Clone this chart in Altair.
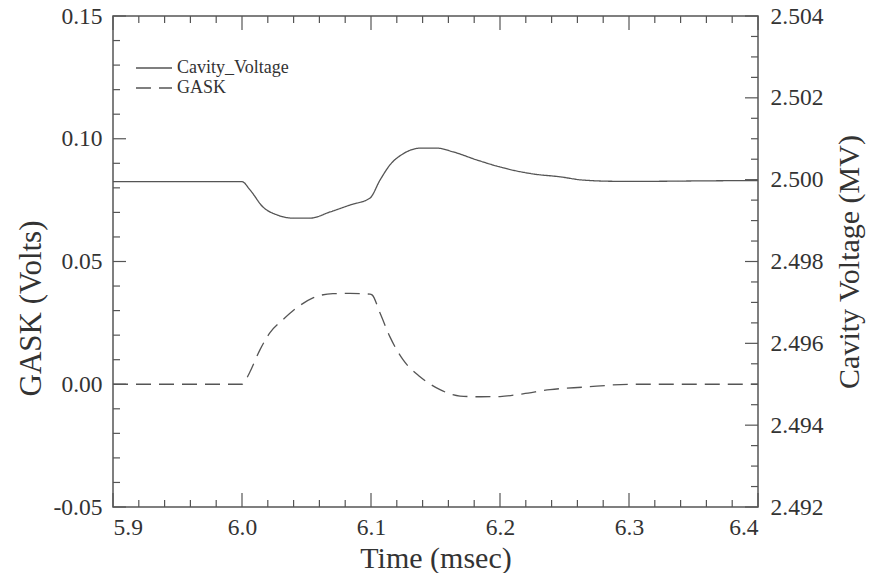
import altair as alt
import pandas as pd

# --- GASK signal (Volts) ---
gask_t = [5.90, 6.000, 6.0023, 6.0062, 6.0140, 6.0217, 6.0318, 6.0426, 6.0550,
          6.0705, 6.0837, 6.0992, 6.1008, 6.1070, 6.1147, 6.1248, 6.1380,
          6.1535, 6.1690, 6.1845, 6.2000, 6.2178, 6.2388, 6.2643, 6.3031,
          6.3419, 6.40]
gask_v = [0.0, 0.0, 0.0012, 0.0051, 0.0141, 0.0210, 0.0263, 0.0312, 0.0352,
          0.0369, 0.0370, 0.0367, 0.0364, 0.0290, 0.0193, 0.0100, 0.0031,
          -0.0022, -0.0048, -0.0051, -0.0050, -0.0039, -0.0022, -0.0012,
          0.0, 0.0, 0.0]

# --- Cavity voltage (MV) ---
cav_t = [5.90, 6.000, 6.0062, 6.0163, 6.0271, 6.0395, 6.0527, 6.0682,
         6.0837, 6.0992, 6.1070, 6.1147, 6.1248, 6.1380, 6.1512, 6.1636,
         6.1822, 6.2023, 6.2256, 6.2465, 6.2643, 6.2907, 6.3163, 6.3550, 6.40]
cav_v = [2.49995, 2.49995, 2.49975, 2.49933, 2.49914, 2.49906, 2.49906,
         2.49921, 2.49938, 2.49955, 2.49999, 2.50036, 2.50063, 2.50077,
         2.50077, 2.50068, 2.50048, 2.50029, 2.50014, 2.50007, 2.49999,
         2.49996, 2.49996, 2.49997, 2.49998]

series_names = ["Cavity_Voltage", "GASK"]

# axis tick values
x_major = [5.9, 6.0, 6.1, 6.2, 6.3, 6.4]
x_minor = [5.92, 5.94, 5.96, 5.98, 6.02, 6.04, 6.06, 6.08, 6.12, 6.14,
           6.16, 6.18, 6.22, 6.24, 6.26, 6.28, 6.32, 6.34, 6.36, 6.38]
left_major = [-0.05, 0.0, 0.05, 0.10, 0.15]
left_minor = [-0.04, -0.03, -0.02, -0.01, 0.01, 0.02, 0.03, 0.04, 0.06,
              0.07, 0.08, 0.09, 0.11, 0.12, 0.13, 0.14]
right_major = [2.492, 2.494, 2.496, 2.498, 2.500, 2.502, 2.504]
right_minor = [2.4925, 2.493, 2.4935, 2.4945, 2.495, 2.4955, 2.4965, 2.497,
               2.4975, 2.4985, 2.499, 2.4995, 2.5005, 2.501, 2.5015, 2.5025,
               2.503, 2.5035]

W, H = 645, 491
INK = "#555555"
TXT = "#333333"
FONT = "Liberation Serif"

gask_df = pd.DataFrame({"t": gask_t, "v": gask_v, "series": "GASK"})
cav_df = pd.DataFrame({"t": cav_t, "v": cav_v, "series": "Cavity_Voltage"})

x_scale = alt.Scale(domain=[5.9, 6.4], nice=False, zero=False)
yl_scale = alt.Scale(domain=[-0.05, 0.15], nice=False, zero=False)
yr_scale = alt.Scale(domain=[2.492, 2.504], nice=False, zero=False)

text_style = dict(labelFont=FONT, labelFontSize=23.5, labelColor=TXT,
                  titleFont=FONT, titleColor=TXT, titleFontWeight="normal")

# one axis definition per scale, shared by every layer that uses the scale
x_axis = alt.Axis(values=x_major, format=".1f", title="Time (msec)",
                  labelPadding=8, titlePadding=5, titleFontSize=30,
                  **text_style)
yl_axis = alt.Axis(values=left_major, title="GASK (Volts)",
                   labelExpr="(datum.value < 0 ? '-' : '') + format(abs(datum.value), '.2f')",
                   labelPadding=11, titlePadding=6, titleFontSize=31,
                   titleY=292, **text_style)
yr_axis = alt.Axis(values=right_major, format=".3f", orient="right",
                   title="Cavity Voltage (MV)", labelPadding=12,
                   titlePadding=12, titleAngle=270, titleBaseline="top",
                   titleFontSize=30, **text_style)

dash = alt.StrokeDash(
    "series:N",
    scale=alt.Scale(domain=series_names, range=[[1, 0], [15, 8]]),
    legend=alt.Legend(
        title=None, orient="none", legendX=22, legendY=42,
        symbolType="stroke", symbolSize=1300, symbolStrokeColor=INK,
        symbolStrokeWidth=1.3, labelFont=FONT, labelFontSize=18,
        labelColor=TXT, labelOffset=4, rowPadding=0, clipHeight=20,
    ),
)

gask_line = alt.Chart(gask_df).mark_line(
    color=INK, strokeWidth=1.3, interpolate="monotone"
).encode(
    x=alt.X("t:Q", scale=x_scale, axis=x_axis),
    y=alt.Y("v:Q", scale=yl_scale, axis=yl_axis),
    strokeDash=dash,
)

cav_line = alt.Chart(cav_df).mark_line(
    color=INK, strokeWidth=1.3, interpolate="monotone"
).encode(
    x=alt.X("t:Q", scale=x_scale, axis=x_axis),
    y=alt.Y("v:Q", scale=yr_scale, axis=yr_axis),
    strokeDash=dash,
)


def tick_rules(values, length, side):
    base = alt.Chart(pd.DataFrame({"t": values, "v": values})).mark_rule(
        color=INK, strokeWidth=1.2)
    if side == "bottom":
        return base.encode(x=alt.X("t:Q", scale=x_scale, axis=x_axis),
                           y=alt.value(H), y2=alt.value(H - length))
    if side == "top":
        return base.encode(x=alt.X("t:Q", scale=x_scale, axis=x_axis),
                           y=alt.value(0), y2=alt.value(length))
    if side == "left":
        return base.encode(y=alt.Y("v:Q", scale=yl_scale, axis=yl_axis),
                           x=alt.value(0), x2=alt.value(length))
    return base.encode(y=alt.Y("v:Q", scale=yr_scale, axis=yr_axis),
                       x=alt.value(W), x2=alt.value(W - length))


left_group = alt.layer(
    gask_line,
    tick_rules(left_major, 13, "left"),
    tick_rules(left_minor, 7, "left"),
    tick_rules(x_major, 14, "bottom"),
    tick_rules(x_minor, 7, "bottom"),
    tick_rules(x_major, 14, "top"),
    tick_rules(x_minor, 7, "top"),
)

right_group = alt.layer(
    cav_line,
    tick_rules(right_major, 13, "right"),
    tick_rules(right_minor, 7, "right"),
)

chart = alt.layer(left_group, right_group).resolve_scale(
    y="independent"
).properties(
    width=W, height=H,
    autosize=alt.AutoSizeParams(type="none"),
    padding={"left": 113, "top": 16, "right": 119, "bottom": 66},
    background="white",
).configure(
    font=FONT
).configure_view(
    stroke=INK, strokeWidth=1.5
).configure_axis(
    grid=False, domain=False, ticks=False,
    labelFont=FONT, titleFont=FONT,
)

chart.save("out.html", embed_options={"renderer": "svg", "actions": False})
